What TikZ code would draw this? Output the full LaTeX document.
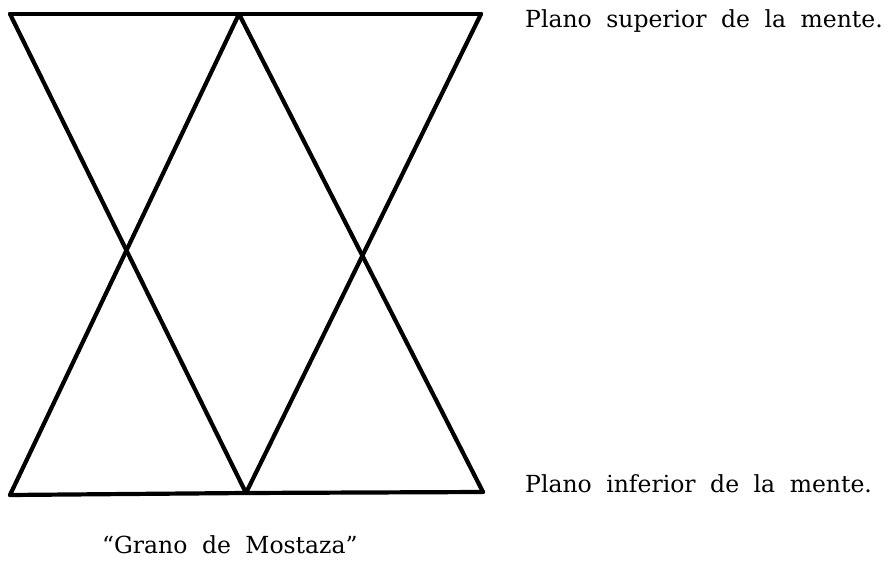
\documentclass[tikz,border=0pt]{standalone}
\usepackage{fontspec}
\setmainfont{DejaVu Serif}
\begin{document}
\begin{tikzpicture}[x=1pt,y=1pt,
  bar/.style={line width=4.2pt,line cap=round,line join=round},
  lbl/.style={anchor=base west,inner sep=0pt,font=\fontsize{23.5}{27}\selectfont}]
\useasboundingbox (0,0) rectangle (891,568);
\coordinate (TL) at (10,554);
\coordinate (TM) at (239,554);
\coordinate (TR) at (481,554);
\coordinate (BL) at (10,73);
\coordinate (BM) at (246,75);
\coordinate (BR) at (483,76);
\draw[bar] (TL) -- (TM) -- (TR);
\draw[bar] (BL) -- (BM) -- (BR);
\draw[bar] (TL) -- (BM);
\draw[bar] (TM) -- (BL);
\draw[bar] (TM) -- (BR);
\draw[bar] (TR) -- (BM);
\node[lbl] (sup) at (525,540) {Plano\hspace{0.3em} superior\hspace{0.3em} de\hspace{0.3em} la\hspace{0.3em} mente.};
\node[lbl] (inf) at (525,76) {Plano\hspace{0.3em} inferior\hspace{0.3em} de\hspace{0.3em} la\hspace{0.3em} mente.};
\node[lbl] (gm) at (102,15) {“Grano\hspace{0.3em} de\hspace{0.3em} Mostaza”};
\end{tikzpicture}
\end{document}
